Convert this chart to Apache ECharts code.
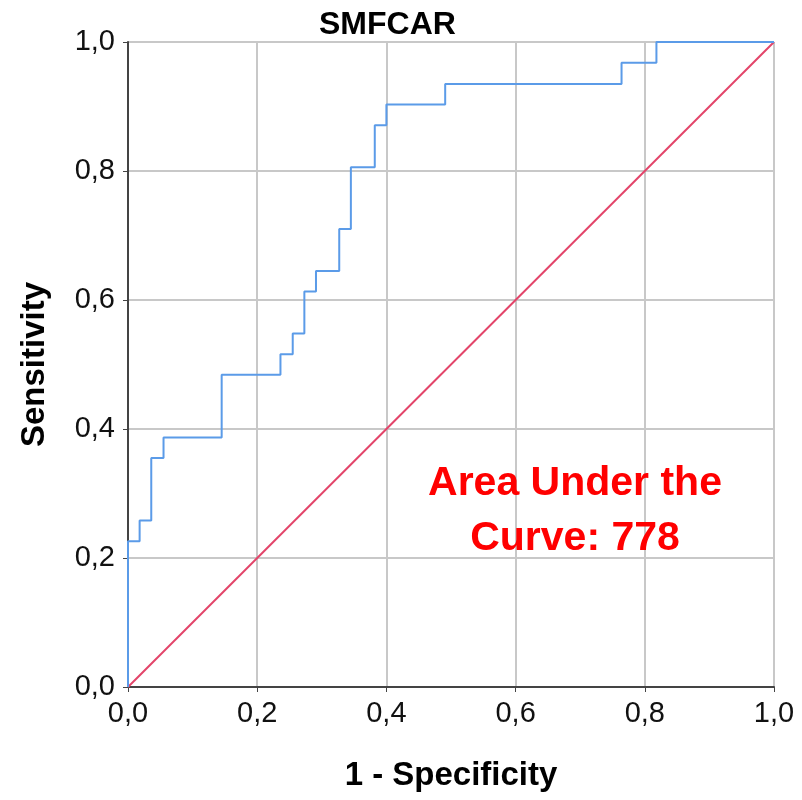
<!DOCTYPE html>
<html>
<head>
<meta charset="utf-8">
<script src="https://cdn.jsdelivr.net/npm/echarts@6/dist/echarts.min.js"></script>
<style>
  html, body { margin: 0; padding: 0; background: #fff; }
  #chart { width: 802px; height: 800px; }
</style>
</head>
<body>
<div id="chart"></div>
<script>
// ROC curve corners (top of each vertical rise), step drawn horizontally first
const fpr = [0, 0, 0.018, 0.036, 0.055, 0.145, 0.236, 0.255, 0.273, 0.291, 0.327, 0.345, 0.382, 0.400, 0.491, 0.764, 0.818, 1.0]
const sensitivity = [0, 0.226, 0.258, 0.355, 0.387, 0.484, 0.516, 0.548, 0.613, 0.645, 0.710, 0.806, 0.871, 0.903, 0.935, 0.968, 1.0, 1.0]
const refLine = [[0, 0], [1, 1]]
const tickLabels = ['0,0', '0,2', '0,4', '0,6', '0,8', '1,0']

const myCharts = echarts.init(document.getElementById('chart'))
const font = 'Liberation Sans'

const fmt = v => tickLabels[Math.round(v * 5)]

const axisCommon = {
  type: 'value',
  min: 0,
  max: 1,
  interval: 0.2,
  nameLocation: 'middle',
  nameTextStyle: { fontFamily: font, fontSize: 33, fontWeight: 'bold', color: '#000' },
  axisLine: { show: true, lineStyle: { color: '#444', width: 2 } },
  axisTick: { show: true, length: 5, lineStyle: { color: '#444' } },
  axisLabel: { formatter: fmt, fontFamily: font, fontSize: 29, color: '#111' },
  splitLine: { show: true, lineStyle: { color: '#c8c8c8', width: 2 } }
}

const options = {
  animation: false,
  title: {
    text: 'SMFCAR',
    left: 314,
    top: 4,
    textStyle: { fontFamily: font, fontSize: 32, fontWeight: 'bold', color: '#000' }
  },
  grid: { left: 128, right: 28, top: 42, bottom: 113 },
  xAxis: Object.assign({}, axisCommon, {
    name: '1 - Specificity',
    nameGap: 72,
    axisLabel: Object.assign({}, axisCommon.axisLabel, { margin: 12 })
  }),
  yAxis: Object.assign({}, axisCommon, {
    name: 'Sensitivity',
    nameGap: 77,
    axisLabel: Object.assign({}, axisCommon.axisLabel, { margin: 13 })
  }),
  graphic: [
    {
      type: 'text',
      x: 575,
      y: 456,
      z: 100,
      style: {
        text: 'Area Under the\nCurve: 778',
        fill: '#ff0000',
        font: 'bold 41px "Liberation Sans"',
        align: 'center',
        verticalAlign: 'top',
        lineHeight: 55
      }
    }
  ],
  series: [
    {
      type: 'line',
      data: refLine,
      symbol: 'none',
      lineStyle: { color: '#e3456a', width: 2 },
      z: 2
    },
    {
      type: 'line',
      step: 'end',
      data: fpr.map((x, i) => [x, sensitivity[i]]),
      symbol: 'none',
      lineStyle: { color: '#5b9be8', width: 2 },
      z: 3
    }
  ]
}
myCharts.setOption(options)
</script>
</body>
</html>
